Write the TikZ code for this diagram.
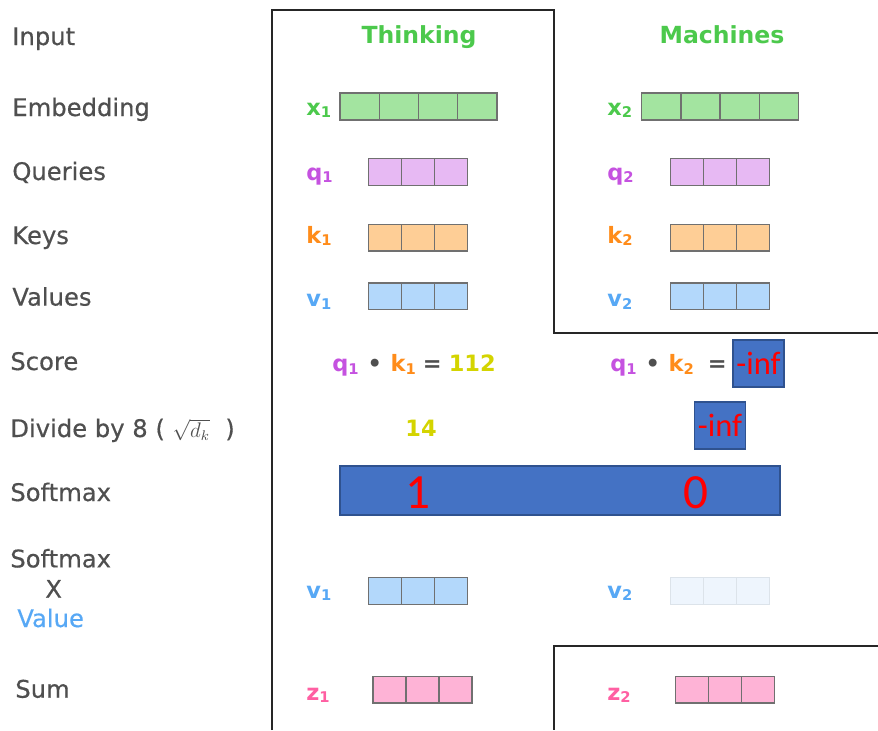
\documentclass[tikz,border=0pt]{standalone}
\usepackage{fontspec}
\usepackage{amsmath}
\usepackage{tikz}
\usetikzlibrary{positioning}
\newfontfamily\labfont{DejaVu Sans}
\newfontfamily\semifont[FakeBold=0.5]{DejaVu Sans}
\newfontfamily\calfont{Carlito}
\definecolor{labgray}{HTML}{4F4F4F}
\definecolor{wordgreen}{HTML}{4CC94C}
\definecolor{embfill}{HTML}{A3E4A0}
\definecolor{qtext}{HTML}{C552E0}
\definecolor{qfill}{HTML}{E7B9F3}
\definecolor{ktext}{HTML}{FF8C1A}
\definecolor{kfill}{HTML}{FECE96}
\definecolor{vtext}{HTML}{57A8F5}
\definecolor{vfill}{HTML}{B3D8FB}
\definecolor{ztext}{HTML}{FF5FA2}
\definecolor{zfill}{HTML}{FEB3D6}
\definecolor{scoreyel}{HTML}{D4D400}
\definecolor{cellgray}{HTML}{707070}
\definecolor{boxblue}{HTML}{4472C4}
\definecolor{boxedge}{HTML}{2F528F}
\definecolor{palefill}{HTML}{EEF5FD}
\definecolor{paleedge}{HTML}{DCE3EA}
\newcommand{\vn}[2]{#1\raisebox{-0.2ex}{\fontsize{8.4}{9}\selectfont #2}}

\begin{document}
\begin{tikzpicture}[x=0.02cm, y=-0.02cm,
    lbl/.style={anchor=base west, font=\semifont\fontsize{13.8}{16}\selectfont, text=labgray, inner sep=0},
    word/.style={anchor=base, font=\labfont\bfseries\fontsize{13.4}{15}\selectfont, text=wordgreen, inner sep=0},
    vlbl/.style={anchor=base west, font=\labfont\bfseries\fontsize{12.8}{15}\selectfont, inner sep=0},
    cell/.style={draw=cellgray, line width=0.8pt, inner sep=0, minimum width=0.66cm, minimum height=0.53cm},
    wide/.style={cell, minimum width=0.784cm, minimum height=0.54cm, fill=embfill},
    infbox/.style={draw=boxedge, line width=1.1pt, fill=boxblue, text=red, inner sep=0, minimum width=1.02cm, minimum height=0.94cm, font=\calfont\fontsize{18.5}{20}\selectfont},
    bigdigit/.style={text=red, inner sep=0, font=\calfont\fontsize{28}{30}\selectfont},
    frame/.style={draw=black!85, line width=0.85pt}
]
    \useasboundingbox (0,0) rectangle (878,730);

    % Row labels on the left
    \node[lbl] (lin) at (12,45) {Input};
    \node[lbl] (lemb) at (12,116) {Embedding};
    \node[lbl] (lq) at (12,180) {Queries};
    \node[lbl] (lk) at (12,244) {Keys};
    \node[lbl] (lv) at (12,305.6) {Values};
    \node[lbl] (lsc) at (10,370) {Score};
    \node[lbl] (ldiv) at (10,437) {Divide by 8 ( {\fontsize{11.5}{12}\selectfont$\sqrt{d_k}$}\ \ )};
    \node[lbl] (lsm) at (10,501) {Softmax};
    \node[lbl] (lsmx) at (10,567.4) {Softmax};
    \node[lbl] (lx) at (45,597.7) {X};
    \node[lbl, text=vtext] (lval) at (17,627) {Value};
    \node[lbl] (lsum) at (15,697.7) {Sum};

    % Frames
    \draw[frame] (272,730) -- (272,10) -- (554,10) -- (554,333) -- (878,333);
    \draw[frame] (878,646) -- (554,646) -- (554,730);

    % Words
    \node[word] (think) at (419,43) {Thinking};
    \node[word] (mach) at (722,43) {Machines};

    % Embeddings
    \node[vlbl, text=wordgreen] (x1) at (306,115) {\vn{x}{1}};
    \node[vlbl, text=wordgreen] (x2) at (607,115) {\vn{x}{2}};
    \foreach \i in {0,...,3} {
        \node[wide] (xa\i) at ({340+39.2*\i+19.6},106.3) {};
        \node[wide] (xb\i) at ({641.7+39.2*\i+19.6},106.3) {};
    }

    % Queries, keys, values
    \node[vlbl, text=qtext] (q1) at (306,180) {\vn{q}{1}};
    \node[vlbl, text=qtext] (q2) at (607,180) {\vn{q}{2}};
    \node[vlbl, text=ktext] (k1) at (306,243) {\vn{k}{1}};
    \node[vlbl, text=ktext] (k2) at (607,243) {\vn{k}{2}};
    \node[vlbl, text=vtext] (v1) at (306,306.7) {\vn{v}{1}};
    \node[vlbl, text=vtext] (v2) at (607,306.7) {\vn{v}{2}};
    \foreach \nm/\col/\yy in {q/qfill/172, k/kfill/237.8, v/vfill/296.4} {
        \foreach \i in {0,1,2} {
            \node[cell, fill=\col] (\nm a\i) at ({368.7+33*\i+16.5},\yy) {};
            \node[cell, fill=\col] (\nm b\i) at ({670.7+33*\i+16.5},\yy) {};
        }
    }

    % Score
    \node[vlbl] (sc1) at (332,371.7) {\textcolor{qtext}{\vn{q}{1}}\hspace{5pt}\textcolor{labgray}{•}\hspace{5pt}\textcolor{ktext}{\vn{k}{1}}\hspace{4pt}\textcolor{labgray}{=}\hspace{4pt}\textcolor{scoreyel}{112}};
    \node[vlbl] (sc2) at (610,371.7) {\textcolor{qtext}{\vn{q}{1}}\hspace{5pt}\textcolor{labgray}{•}\hspace{5pt}\textcolor{ktext}{\vn{k}{2}}\hspace{8pt}\textcolor{labgray}{=}};
    \node[infbox] (inf1) at (758.5,363.5) {-inf};

    % Divide
    \node[vlbl, text=scoreyel] (div1) at (405,436.7) {14};
    \node[infbox] (inf2) at (720,425.5) {-inf};

    % Softmax
    \node[draw=boxedge, line width=1.1pt, fill=boxblue, minimum width=8.8cm, minimum height=0.98cm, inner sep=0] (smbar) at (560,490.5) {};
    \node[bigdigit] (sm1) at (418,492.5) {1};
    \node[bigdigit] (sm2) at (696,492.5) {0};

    % Softmax x value
    \node[vlbl, text=vtext] (wv1) at (306,598) {\vn{v}{1}};
    \node[vlbl, text=vtext] (wv2) at (607,598) {\vn{v}{2}};
    \foreach \i in {0,1,2} {
        \node[cell, fill=vfill] (wva\i) at ({368.7+33*\i+16.5},591) {};
        \node[cell, fill=palefill, draw=paleedge] (wvb\i) at ({670.7+33*\i+16.5},591) {};
    }

    % Sum
    \node[vlbl, text=ztext] (z1) at (306,700) {\vn{z}{1}};
    \node[vlbl, text=ztext] (z2) at (607,700) {\vn{z}{2}};
    \foreach \i in {0,1,2} {
        \node[cell, fill=zfill] (za\i) at ({373+33*\i+16.5},689.7) {};
        \node[cell, fill=zfill] (zb\i) at ({675.7+33*\i+16.5},689.7) {};
    }
\end{tikzpicture}
\end{document}
